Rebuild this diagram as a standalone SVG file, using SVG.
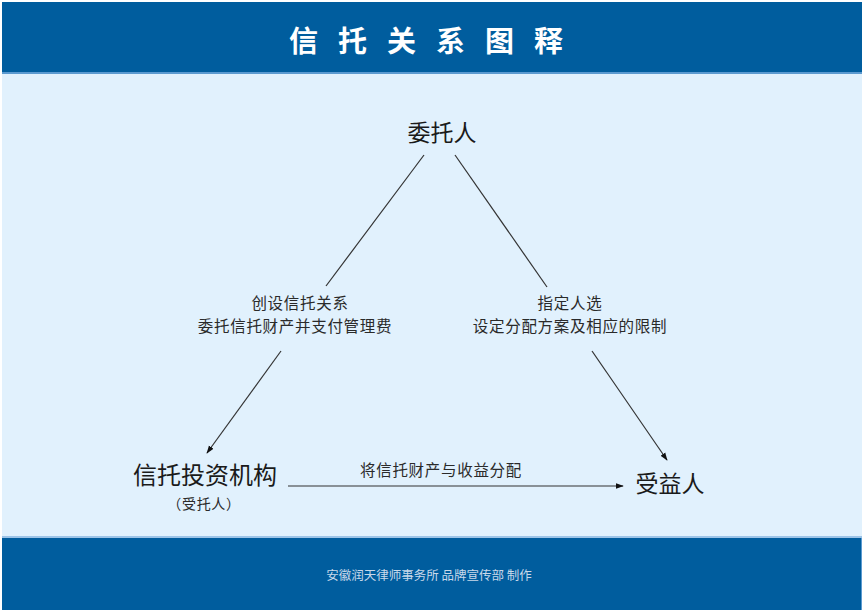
<svg xmlns="http://www.w3.org/2000/svg" width="864" height="612" viewBox="0 0 864 612">
  <style>
    .t { font-family: "Noto Sans CJK SC", "Noto Sans", sans-serif; fill: #1a1a1a; text-anchor: middle; }
    .s { font-family: "Noto Sans CJK SC", "Noto Sans", sans-serif; fill: #2a2a2a; text-anchor: middle; font-size: 15.5px; letter-spacing: 0.7px; }
    .node { font-size: 23px; }
    .edge { stroke: #333; stroke-width: 1.2; fill: none; }
  </style>
  <defs>
    <marker id="arr" viewBox="0 0 10 10" refX="9" refY="5" markerWidth="8" markerHeight="8" markerUnits="userSpaceOnUse" orient="auto">
      <path d="M0,1.5 L10,5 L0,8.5 Z" fill="#111"/>
    </marker>
  </defs>
  <rect x="0" y="0" width="864" height="612" fill="#ffffff"/>
  <rect x="2" y="2" width="860" height="608" fill="#E1F1FD"/>
  <rect x="2" y="2" width="860" height="71" fill="#005D9E"/>
  <rect x="2" y="72" width="860" height="2" fill="#5B9AD0"/>
  <rect x="2" y="536" width="860" height="2" fill="#9CC4E8"/>
  <rect x="2" y="538" width="860" height="72" fill="#005D9E"/>
  <rect x="861" y="538" width="1" height="72" fill="#5B9AD0"/>

  <g id="title">
    <text x="436" y="52" font-family="'Noto Sans CJK SC', sans-serif" font-size="29" font-weight="bold" fill="#ffffff" text-anchor="middle" letter-spacing="20">信托关系图释</text>
  </g>

  <g id="connectors">
    <line class="edge" x1="424" y1="155" x2="326" y2="286"/>
    <line class="edge" x1="281" y1="351" x2="207" y2="453" marker-end="url(#arr)"/>
    <line class="edge" x1="455" y1="155" x2="547" y2="287"/>
    <line class="edge" x1="592" y1="351" x2="667" y2="460" marker-end="url(#arr)"/>
    <line class="edge" x1="288" y1="486" x2="623" y2="486" marker-end="url(#arr)"/>
  </g>

  <g id="node-settlor">
    <text class="t node" x="442" y="141">委托人</text>
  </g>
  <g id="node-trustee">
    <text class="t" x="205" y="484" font-size="24">信托投资机构</text>
    <text class="s" x="204" y="509" style="font-size:14px">（受托人）</text>
  </g>
  <g id="node-beneficiary">
    <text class="t node" x="670" y="492">受益人</text>
  </g>

  <g id="labels">
    <text class="s" x="300" y="309">创设信托关系</text>
    <text class="s" x="295" y="332">委托信托财产并支付管理费</text>
    <text class="s" x="570" y="309">指定人选</text>
    <text class="s" x="570" y="332">设定分配方案及相应的限制</text>
    <text class="s" x="441" y="476">将信托财产与收益分配</text>
  </g>

  <g id="footer">
    <text x="429" y="580" font-family="'Noto Sans CJK SC', sans-serif" font-size="12.5" fill="#C9D9EA" text-anchor="middle">安徽润天律师事务所 品牌宣传部 制作</text>
  </g>
</svg>
